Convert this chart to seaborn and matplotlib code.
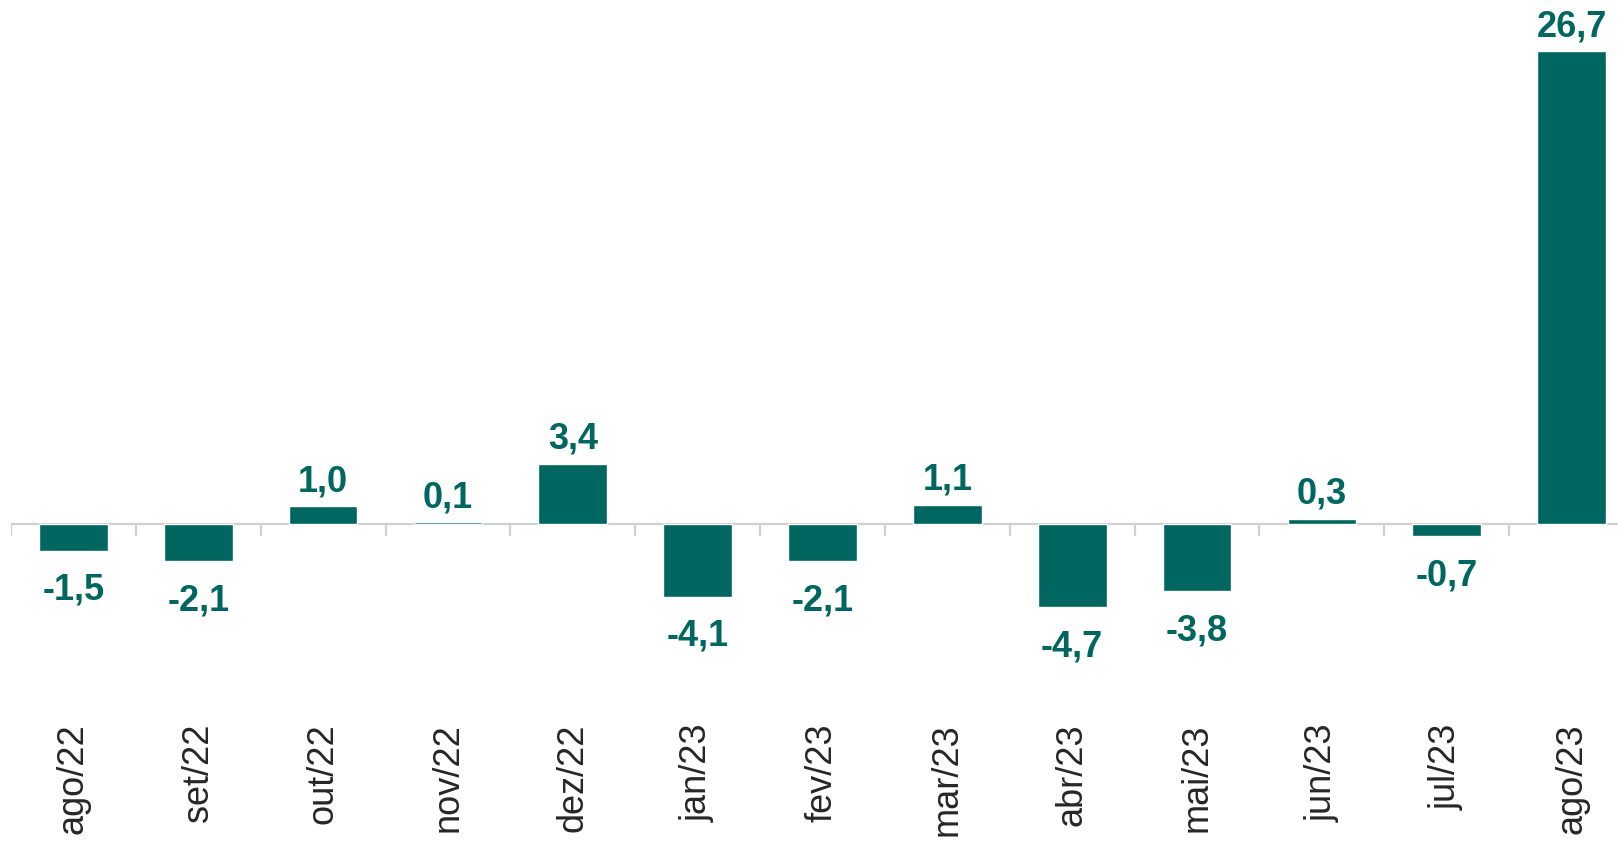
import pandas as pd
import matplotlib.pyplot as plt
import seaborn as sns

months = ['ago/22', 'set/22', 'out/22', 'nov/22', 'dez/22', 'jan/23', 'fev/23',
          'mar/23', 'abr/23', 'mai/23', 'jun/23', 'jul/23', 'ago/23']
values = [-1.5, -2.1, 1.0, 0.1, 3.4, -4.1, -2.1, 1.1, -4.7, -3.8, 0.3, -0.7, 26.7]

df = pd.DataFrame({'mes': months, 'valor': values})

color = '#006660'

sns.set_style("white")
plt.rcParams['font.family'] = ['Liberation Sans', 'DejaVu Sans']

fig = plt.figure(figsize=(16.18, 8.43), dpi=100)
# axis runs a little past the right edge, as in the original
ax = fig.add_axes([11 / 1618, 143 / 843, 1623 / 1618, 700 / 843])

sns.barplot(ax=ax, data=df, x='mes', y='valor', color=color, width=0.55,
            saturation=1)

ax.set_xlim(-0.5, len(months) - 0.5)
ax.set_ylim(-9.94, 29.6)

for s in ax.spines.values():
    s.set_visible(False)
ax.axhline(0, color='#d0d0d0', lw=1.6, zorder=0)
ax.vlines([i - 0.5 for i in range(len(months) + 1)], -0.68, 0,
          color='#d0d0d0', lw=1.6, zorder=0)

for i, v in enumerate(values):
    txt = f'{v:.1f}'.replace('.', ',')
    if v >= 0:
        ax.annotate(txt, (i, v), xytext=(0, 5), textcoords='offset points',
                    ha='center', va='bottom', fontsize=26, fontweight='bold',
                    color=color)
    else:
        ax.annotate(txt, (i, v), xytext=(0, -16), textcoords='offset points',
                    ha='center', va='top', fontsize=26, fontweight='bold',
                    color=color)

ax.set_yticks([])
ax.set_xlabel('')
ax.set_ylabel('')
ax.tick_params(axis='x', length=0, pad=17, labelsize=26, labelrotation=90)

fig.savefig('out.png', dpi=100)
